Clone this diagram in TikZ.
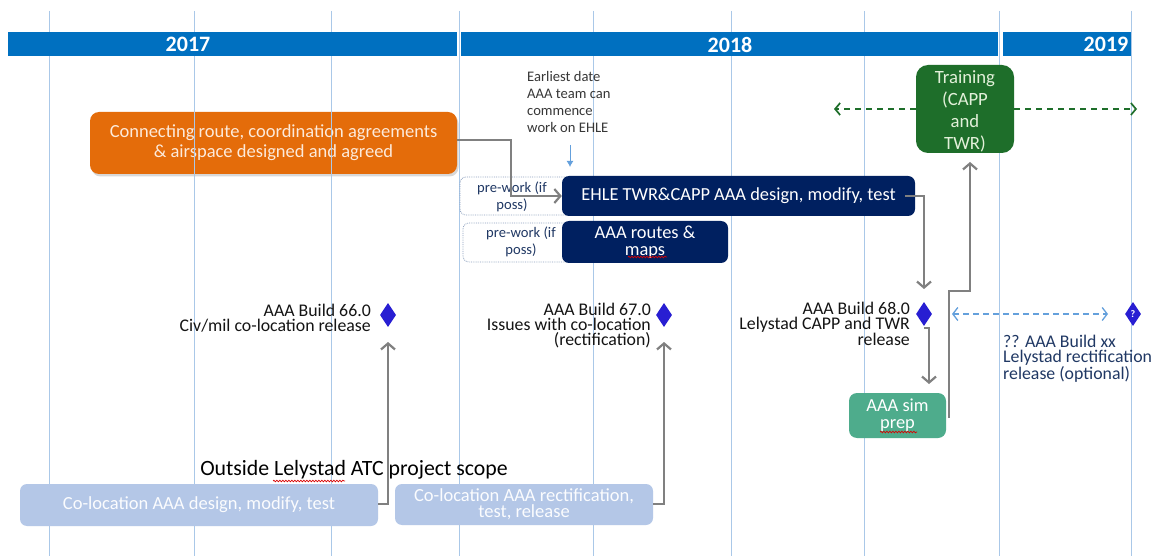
\documentclass[tikz,border=0pt]{standalone}
\usepackage{fontspec}
\setmainfont{Carlito}
\usetikzlibrary{arrows.meta,shapes.geometric,decorations.pathmorphing,shadows}

\definecolor{bandblue}{RGB}{0,112,192}
\definecolor{gridblue}{RGB}{170,200,232}
\definecolor{orangebox}{RGB}{228,108,10}
\definecolor{orangetext}{RGB}{253,234,218}
\definecolor{navy}{RGB}{0,32,96}
\definecolor{traingreen}{RGB}{30,110,42}
\definecolor{traintext}{RGB}{226,240,217}
\definecolor{simteal}{RGB}{78,172,140}
\definecolor{lightbox}{RGB}{180,199,231}
\definecolor{diamondblue}{RGB}{40,30,210}
\definecolor{dashblue}{RGB}{100,160,220}
\definecolor{qtext}{RGB}{32,56,100}
\definecolor{conngray}{RGB}{128,128,128}
\definecolor{dotborder}{RGB}{140,160,190}
\definecolor{buildtext}{RGB}{20,20,20}

\tikzset{
  gridline/.style={gridblue, line width=0.9pt},
  yearband/.style={fill=bandblue, draw=none},
  yearlabel/.style={text=white, font=\fontsize{22}{24}\selectfont\bfseries, inner sep=0},
  boxbase/.style={draw=none, rounded corners=7pt, inner sep=0, align=center},
  orangestyle/.style={boxbase, fill=orangebox, text=orangetext, rounded corners=9pt,
    font=\fontsize{18.5}{20}\selectfont, drop shadow={shadow xshift=1.5pt, shadow yshift=-2.5pt, opacity=0.3}},
  navystyle/.style={boxbase, fill=navy, text=white, font=\fontsize{18.4}{17}\selectfont},
  prebox/.style={draw=dotborder, densely dotted, line width=0.8pt, rounded corners=6pt, inner sep=0},
  pretxt/.style={text=qtext, font=\fontsize{14.6}{17}\selectfont, align=center, inner sep=0},
  trainstyle/.style={boxbase, fill=traingreen, rounded corners=12pt},
  traintxt/.style={text=traintext, align=center, inner sep=0, font=\fontsize{18.7}{22}\selectfont},
  simstyle/.style={boxbase, fill=simteal, text=white, rounded corners=8pt, font=\fontsize{18.4}{17}\selectfont},
  lightstyle/.style={boxbase, fill=lightbox, text=white!95!lightbox, rounded corners=7pt, font=\fontsize{18.5}{15.5}\selectfont},
  milestone/.style={diamond, fill=diamondblue, draw=none, minimum width=16pt, minimum height=24pt, inner sep=0},
  buildlbl/.style={text=buildtext, font=\fontsize{17.8}{15}\selectfont, inner sep=0},
  gconn/.style={conngray, line width=2.4pt, -{Straight Barb[length=6pt,width=14pt,line width=2.2pt]}},
  greendash/.style={traingreen, line width=1.8pt, dash pattern=on 6pt off 5pt, -{Straight Barb[length=5pt,width=12pt,line width=1.7pt]}},
  bluedash/.style={dashblue, line width=1.3pt, dash pattern=on 6pt off 4pt, {Straight Barb[length=5pt,width=13pt,line width=1.3pt]}-{Straight Barb[length=5pt,width=13pt,line width=1.3pt]}},
  squiggle/.style={red!85!black, line width=0.7pt, decorate, decoration={snake, amplitude=0.8pt, segment length=3pt}}
}

\begin{document}
\begin{tikzpicture}[x=1pt,y=-1pt]
\useasboundingbox (0,0) rectangle (1160,556);
\fill[white] (0,0) rectangle (1160,556);

% orange box (grid lines show through it)
\node[orangestyle, minimum width=367pt, minimum height=62pt] (orange) at (273.5,143)
  {Connecting route, coordination agreements\\\& airspace designed and agreed};

% grid lines
\foreach \gx [count=\i] in {49,194,331,459,593,731,864,999,1131}
  \draw[gridline] (\gx,11) coordinate (gt\i) -- (\gx,556) coordinate (gb\i);

% year band
\fill[yearband] (8,32) rectangle (457,56);
\fill[yearband] (461,32) rectangle (998,56);
\fill[yearband] (1003,32) rectangle (1131,56);
\node[yearlabel] (y2017) at (188,44.5) {2017};
\node[yearlabel] (y2018) at (730,44.5) {2018};
\node[yearlabel] (y2019) at (1106,44.5) {2019};

% earliest date note
\node[pretxt, text=buildtext!85, align=left, anchor=north west] (early) at (527,71)
  {Earliest date\\AAA team can\\commence\\work on EHLE};
\coordinate (earlyA) at (570,145);
\coordinate (earlyB) at (570,167);
\draw[dashblue, line width=1pt, -{Latex[length=6pt,width=7pt]}] (earlyA) -- (earlyB);

% pre-work dotted boxes
\node[prebox, minimum width=140pt, minimum height=38pt] (pre1) at (530,196) {};
\node[prebox, minimum width=137pt, minimum height=39pt] (pre2) at (531.5,242.5) {};
\node[pretxt] (pre1t) at (512,197) {pre-work (if\\poss)};
\node[pretxt] (pre2t) at (521,242) {pre-work (if\\poss)};

% navy boxes
\node[navystyle, minimum width=353pt, minimum height=40pt] (ehle) at (738.5,196)
  {EHLE TWR\&CAPP AAA design, modify, test};
\node[navystyle, minimum width=166pt, minimum height=42pt] (routes) at (645,242)
  {AAA routes \&\\maps};

% training
\node[trainstyle, minimum width=98pt, minimum height=88pt] (train) at (965,109) {};
\node[traintxt] (traint) at (965,111) {Training\\(CAPP\\and\\TWR)};
\coordinate (trainL) at (834,109);
\coordinate (trainR) at (1137,109);
\draw[greendash] (train.west) -- (trainL);
\draw[greendash] (train.east) -- (trainR);

% milestones
\node[milestone] (d66) at (388,315) {};
\node[milestone] (d67) at (664,315) {};
\node[milestone] (d68) at (924,314) {};
\node[milestone] (dq) at (1133,314) {};
\node[text=white, font=\fontsize{10}{10}\selectfont\bfseries, inner sep=0] (dqt) at (1133,314.5) {?};

\node[buildlbl, align=right, anchor=east] (t66) at (371,318.5)
  {AAA Build 66.0\\Civ/mil co-location release};
\node[buildlbl, align=right, anchor=east] (t67) at (651,325.5)
  {AAA Build 67.0\\Issues with co-location\\(rectification)};
\node[buildlbl, align=right, anchor=east] (t68) at (910,324)
  {AAA Build 68.0\\Lelystad CAPP and TWR\\release};
\node[buildlbl, text=qtext, align=left, anchor=west] (tq) at (1003,359)
  {?? AAA Build xx\\Lelystad rectification\\release (optional)};

\coordinate (bdA) at (952,314);
\coordinate (bdB) at (1108,314);
\draw[bluedash] (bdA) -- (bdB);

% sim prep
\node[simstyle, minimum width=97pt, minimum height=45pt] (sim) at (897.5,415.5)
  {AAA sim\\prep};

% bottom boxes
\node[font=\fontsize{21.8}{22}\selectfont, text=black, inner sep=0] (scope) at (354,470)
  {Outside Lelystad ATC project scope};
\node[lightstyle, minimum width=358pt, minimum height=42pt] (bot1) at (199,505)
  {Co-location AAA design, modify, test};
\node[lightstyle, minimum width=258pt, minimum height=41pt] (bot2) at (524,504.5)
  {Co-location AAA rectification,\\test, release};

% connectors
\coordinate (c1a) at (511,140);
\draw[gconn] (orange.east |- c1a) -- (c1a) |- (ehle.west);

\coordinate (c2a) at (905,196);
\coordinate (c2b) at (924,196);
\coordinate (c2c) at (924,289);
\draw[gconn] (c2a) -- (c2b) -- (c2c);

\coordinate (c3a) at (924,328);
\coordinate (c3b) at (929,328);
\coordinate (c3c) at (929,384);
\draw[gconn] (c3a) -- (c3b) -- (c3c);

\coordinate (c4a) at (949,418);
\coordinate (c4b) at (949,291);
\coordinate (c4c) at (970,291);
\coordinate (c4d) at (970,162);
\draw[gconn] (c4a) -- (c4b) -- (c4c) -- (c4d);

\coordinate (c5a) at (388,504);
\coordinate (c5b) at (388,342);
\draw[gconn] (bot1.east |- c5a) -- (c5a) -- (c5b);

\coordinate (c6a) at (664,504);
\coordinate (c6b) at (664,342);
\draw[gconn] (bot2.east |- c6a) -- (c6a) -- (c6b);

% spell-check squiggles
\draw[squiggle] (628,257) -- (667,257);
\draw[squiggle] (273,481) -- (345,481);
\draw[squiggle] (880,432) -- (917,432);
\end{tikzpicture}
\end{document}
